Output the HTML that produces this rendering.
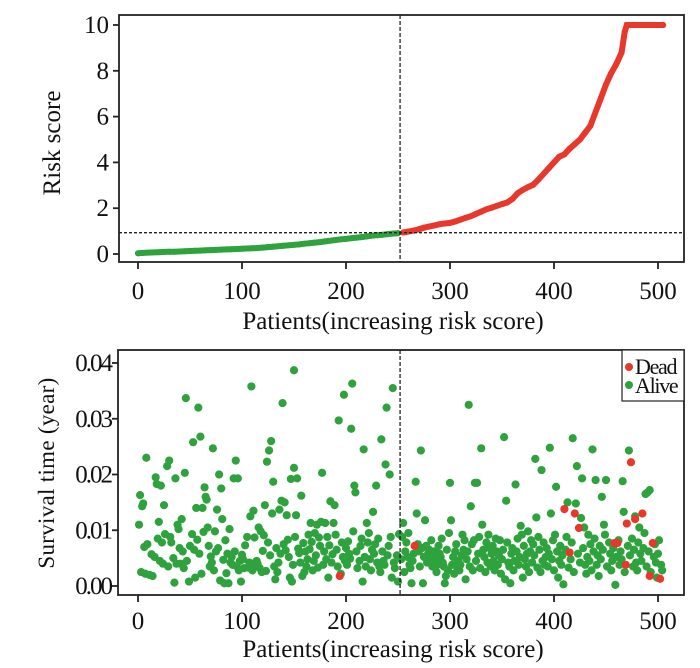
<!DOCTYPE html>
<html><head><meta charset="utf-8"><style>
html,body{margin:0;padding:0;background:#fff;}
svg{display:block;font-family:"Liberation Serif",serif;}
</style></head><body>
<svg id="chart" width="700" height="668" viewBox="0 0 700 668" xmlns="http://www.w3.org/2000/svg">
<g id="topPanel"></g>
<g id="botPanel"></g>
</svg>
<script>
// ---- top panel data ----
const riskPatients = [0,5,10,15,20,25,30,35,40,45,50,55,60,65,70,75,80,85,90,95,100,105,110,115,120,125,130,135,140,145,150,155,160,165,170,175,180,185,190,195,200,205,210,215,220,225,230,235,240,245,250,255,260,265,270,275,280,285,290,295,300,305,310,315,320,325,330,335,340,345,350,355,360,365,370,375,380,385,390,395,400,405,410,415,420,425,430,435,440,445,450,455,460,465,468,470,475,480,485,490,495,500,505];
const riskValues = [.03,.05,.06,.07,.08,.09,.10,.10,.11,.12,.13,.14,.15,.16,.17,.18,.19,.20,.21,.22,.23,.24,.25,.26,.28,.30,.32,.34,.36,.38,.40,.42,.45,.47,.50,.52,.55,.58,.61,.64,.66,.69,.71,.74,.77,.80,.82,.84,.87,.89,.91,.94,.98,1.02,1.08,1.15,1.2,1.25,1.3,1.33,1.36,1.42,1.5,1.58,1.65,1.75,1.85,1.95,2.02,2.1,2.18,2.25,2.4,2.65,2.8,2.92,3.02,3.25,3.5,3.75,4.0,4.25,4.35,4.6,4.8,5.0,5.3,5.6,6.2,6.8,7.4,7.9,8.3,8.8,9.7,10,10,10,10,10,10,10,10];
const riskCutoff = 0.93;
const cutoffPatient = 252;
const xTicks = [0,100,200,300,400,500];
const riskTicks = [0,2,4,6,8,10];
const survTicks = [0,0.01,0.02,0.03,0.04];
const survTickLabels = ["0.00","0.01","0.02","0.03","0.04"];
// ---- bottom panel data ----
const deadX = [194,266,410,415,420,424,458,461,470,474,478,485,492,495,502,469];
const deadY = [.0018,.0072,.0138,.006,.013,.0104,.0077,.0077,.0112,.0222,.012,.013,.0018,.0077,.0013,.0038];
const aliveHighX = [1,2,4,5,8,17,18,20,22,25,28,30,36,38,42,45,46,53,56,58,60,62,64,65,66,72,76,78,80,81,88,92,94,96,108,109,111,116,122,124,126,128,130,129,136,138,139,141,143,147,150,150,152,153,157,166,172,176,177,180,185,188,189,193,198,205,206,208,209,217,220,226,229,234,238,239,242,245,255,267,268,272,276,300,301,318,320,324,326,330,331,352,354,363,368,382,388,383,396,397,402,413,418,421,422,426,427,437,440,446,448,450,466,467,472,478,482,488,490,492];
const aliveHighY = [.011,.0163,.0143,.0148,.023,.0195,.0183,.0115,.018,.0145,.0215,.0225,.0193,.011,.012,.0203,.0337,.0258,.014,.032,.0268,.014,.0177,.016,.0155,.0247,.0137,.02,.0175,.012,.0102,.0193,.0225,.0193,.0125,.0358,.0135,.0105,.0145,.0223,.0243,.026,.0187,.013,.0137,.0153,.0328,.015,.0127,.0192,.0212,.0387,.0127,.0193,.0162,.0113,.011,.0115,.0203,.0113,.0152,.0113,.0145,.0297,.0343,.0282,.0363,.018,.0168,.0245,.0113,.0133,.018,.0263,.0218,.032,.02,.0355,.0113,.0187,.013,.0243,.0118,.0185,.0118,.0325,.0143,.0185,.0185,.0247,.011,.0267,.0153,.0182,.0108,.0228,.0208,.0123,.0248,.013,.0178,.015,.0265,.0148,.0215,.0122,.0193,.0245,.019,.016,.011,.019,.0188,.0133,.0243,.0125,.0105,.0165,.0168,.0172];
const aliveLowX = [3,6,7,9,11,13,14,16,19,21,23,24,26,29,31,32,34,35,37,39,40,41,43,44,47,49,50,52,54,55,57,59,61,63,67,68,69,70,71,73,74,75,77,79,82,83,84,85,86,87,89,90,91,93,95,97,98,99,100,101,102,103,105,106,107,110,112,113,114,115,117,118,119,120,121,123,125,127,131,132,133,134,135,137,140,142,144,145,146,148,149,151,154,155,156,158,159,160,161,162,163,164,165,167,168,169,170,171,173,174,175,178,179,181,182,183,184,186,187,190,191,192,195,196,197,199,200,201,202,203,204,207,210,211,213,214,215,216,218,219,221,222,223,224,225,227,228,230,231,232,233,235,236,237,240,241,243,244,246,247,249,250,251,253,254,256,257,258,259,260,261,262,263,264,265,269,270,271,273,274,275,277,278,279,280,281,282,283,284,285,286,287,288,289,290,291,292,293,294,295,296,297,298,299,302,303,304,305,306,307,308,309,310,311,312,313,314,315,316,317,319,321,322,323,325,327,328,329,332,333,334,335,336,337,338,339,340,341,342,343,344,345,346,347,348,349,350,351,353,355,356,357,358,359,360,361,362,364,365,366,367,369,370,371,372,373,374,375,376,377,378,379,380,381,384,385,386,387,389,390,391,392,393,394,395,398,399,400,401,403,404,405,406,407,408,409,411,412,414,416,417,419,423,425,428,429,430,431,432,433,434,435,436,438,439,441,442,443,444,445,447,449,451,453,454,455,456,457,459,460,462,463,464,465,468,471,473,475,476,477,479,480,481,483,484,486,487,489,491,493,496,497,498,499,500,501,503,504];
const aliveLowY = [.0025,.007,.0022,.0075,.002,.0057,.0018,.0052,.0085,.0045,.0078,.004,.0093,.0035,.0088,.0078,.005,.0006,.004,.0102,.0068,.004,.0062,.0032,.0045,.0008,.0072,.0093,.0065,.0015,.0083,.0058,.0022,.0097,.0105,.0072,.0035,.0053,.0042,.0028,.0098,.0062,.0068,.001,.0047,.0005,.0082,.0023,.0058,.0005,.0042,.0052,.0038,.0062,.0035,.0028,.0045,.0008,.0056,.0048,.0032,.0073,.0088,.0033,.0042,.0028,.0087,.0035,.0045,.004,.0032,.0098,.0025,.0063,.0091,.0027,.0078,.0055,.0035,.0012,.0068,.0025,.0042,.0058,.0075,.0064,.0083,.0052,.0015,.0008,.0038,.0088,.0067,.0059,.0042,.0018,.0077,.0025,.0062,.0035,.0048,.0092,.0066,.0079,.0028,.0045,.0095,.0055,.0033,.0087,.0072,.0038,.0062,.0048,.0088,.0015,.0073,.0042,.0057,.0092,.0065,.0035,.0022,.0078,.0052,.0045,.0068,.0038,.008,.0058,.0049,.0098,.0062,.0032,.0045,.0072,.0085,.0008,.0052,.0035,.0078,.0095,.0048,.0028,.0065,.0058,.0075,.0042,.0085,.0035,.0025,.0062,.0045,.0038,.0055,.0072,.0088,.0015,.0042,.0032,.0055,.0008,.0093,.0048,.0088,.0025,.0062,.0078,.0052,.0095,.0038,.0032,.0005,.0045,.0058,.0075,.0062,.0035,.0068,.0005,.0052,.0072,.0042,.0058,.0065,.0048,.0082,.0035,.0055,.0062,.0045,.0025,.0038,.0072,.0058,.0052,.0085,.0042,.0035,.0005,.0018,.0065,.0028,.0095,.0038,.0052,.0022,.0062,.0075,.0032,.0045,.0028,.0038,.0055,.0092,.0065,.0082,.0012,.0048,.0062,.0035,.0075,.0028,.0082,.0045,.0058,.0088,.0032,.0065,.0052,.0025,.0078,.0042,.0092,.0068,.0035,.0058,.0072,.0045,.0028,.0085,.0062,.0038,.0055,.0082,.0022,.0048,.0065,.0012,.0078,.0042,.0035,.0005,.0058,.0068,.0028,.0045,.0062,.0085,.0038,.0052,.0092,.0015,.0072,.0048,.0035,.0058,.0098,.0025,.0062,.0082,.0042,.0075,.0055,.0033,.0088,.0065,.0025,.0045,.0078,.0038,.0052,.0068,.0035,.0058,.0048,.0082,.0028,.0092,.0062,.0015,.0045,.0072,.0038,.0055,.0003,.0065,.0088,.0033,.0048,.0078,.0025,.0058,.0042,.0068,.0105,.0038,.0022,.0052,.0092,.0045,.0075,.0028,.0062,.0085,.0038,.0055,.0018,.0072,.0048,.0065,.0092,.0035,.0078,.0058,.0028,.0045,.0068,.0002,.0052,.0082,.0038,.0062,.0048,.0025,.0072,.0055,.0085,.0035,.0065,.0042,.0028,.0078,.0058,.0045,.0068,.0095,.0035,.0062,.0025,.0052,.0075,.0042,.0015,.0058,.0082,.0038,.0028,.0065,.0048,.0072,.0035,.0018,.0025,.0055,.0005,.0045,.0092,.0038,.0062,.0015,.0028,.0048,.0008,.0068,.0042,.0025,.0035,.0052,.0012,.0045,.0028];

const NS = "http://www.w3.org/2000/svg";
const GREEN = "#2ea23c", RED = "#e8382b";
const FS = 25;
function mk(tag, attrs, parent) {
  const e = document.createElementNS(NS, tag);
  for (const k in attrs) e.setAttribute(k, attrs[k]);
  parent.appendChild(e);
  return e;
}
const X0 = 138, XPER = 1.04;
function xs(p) { return X0 + p * XPER; }

// ===== TOP PANEL =====
const topG = document.getElementById('topPanel');
const T = {l:119, r:684, t:15, b:262};
function ysTop(v) { return 254 - v * 22.9; }
const greenPts = [], redPts = [];
for (let i = 0; i < riskPatients.length; i++) {
  const pt = xs(riskPatients[i]).toFixed(1) + "," + ysTop(riskValues[i]).toFixed(1);
  if (riskPatients[i] <= cutoffPatient) greenPts.push(pt);
  else redPts.push(pt);
}
const gl = mk('polyline', {points: greenPts.join(' '), fill:'none', stroke:GREEN, 'stroke-width':6, 'stroke-linecap':'round'}, topG);


const rl = mk('polyline', {points: redPts.join(' '), fill:'none', stroke:RED, 'stroke-width':6, 'stroke-linecap':'round'}, topG);


for (let i = 0; i < riskPatients.length; i++) {
  const c = mk('circle', {cx: xs(riskPatients[i]), cy: ysTop(riskValues[i]), r: 3, fill: riskPatients[i] <= cutoffPatient ? GREEN : RED}, topG);
  
  
}
const hl = mk('line', {x1:T.l, x2:T.r, y1:ysTop(riskCutoff), y2:ysTop(riskCutoff), stroke:'#222', 'stroke-width':1.4, 'stroke-dasharray':'3,2'}, topG);


const vl = mk('line', {x1:xs(cutoffPatient), x2:xs(cutoffPatient), y1:T.t, y2:T.b, stroke:'#222', 'stroke-width':1.3, 'stroke-dasharray':'4,2'}, topG);


const tf = mk('rect', {x:T.l, y:T.t, width:T.r-T.l, height:T.b-T.t, fill:'none', stroke:'#222', 'stroke-width':1.8}, topG);


for (const v of riskTicks) {
  const y = ysTop(v);
  const tk = mk('line', {x1:T.l-6, x2:T.l, y1:y, y2:y, stroke:'#222', 'stroke-width':1.8}, topG);
  
  
  const tx = mk('text', {x:109, y:y+8, 'text-anchor':'end', 'font-size':FS, fill:'#111'}, topG);
  tx.textContent = v;
  
  
}
for (const v of xTicks) {
  const x = xs(v);
  const tk = mk('line', {x1:x, x2:x, y1:T.b, y2:T.b+7, stroke:'#222', 'stroke-width':1.8}, topG);
  
  
  const tx = mk('text', {x:x, y:299, 'text-anchor':'middle', 'font-size':FS, fill:'#111'}, topG);
  tx.textContent = v;
  
  
}
const tt = mk('text', {x:393, y:329, 'text-anchor':'middle', 'font-size':FS, fill:'#111'}, topG);
tt.textContent = 'Patients(increasing risk score)';


const ty = mk('text', {x:0, y:0, 'text-anchor':'middle', 'font-size':FS, fill:'#111', transform:'translate(60,143) rotate(-90)'}, topG);
ty.textContent = 'Risk score';



// ===== BOTTOM PANEL =====
const botG = document.getElementById('botPanel');
const B = {l:118, r:684, t:350, b:595};
function ysBot(v) { return 586 - v * 5575; }
function dot(x, y, color, name) {
  const c = mk('circle', {cx: xs(x), cy: ysBot(y), r: 4.1, fill: color}, botG);
  
  
}
for (let i = 0; i < aliveLowX.length; i++) dot(aliveLowX[i], aliveLowY[i], GREEN, 'alive-point');
for (let i = 0; i < aliveHighX.length; i++) dot(aliveHighX[i], aliveHighY[i], GREEN, 'alive-point');
for (let i = 0; i < deadX.length; i++) dot(deadX[i], deadY[i], RED, 'dead-point');
const bvl = mk('line', {x1:xs(cutoffPatient), x2:xs(cutoffPatient), y1:B.t, y2:B.b, stroke:'#222', 'stroke-width':1.3, 'stroke-dasharray':'4,2'}, botG);


const bf = mk('rect', {x:B.l, y:B.t, width:B.r-B.l, height:B.b-B.t, fill:'none', stroke:'#222', 'stroke-width':1.8}, botG);


for (let i = 0; i < survTicks.length; i++) {
  const y = ysBot(survTicks[i]);
  const tk = mk('line', {x1:B.l-6, x2:B.l, y1:y, y2:y, stroke:'#222', 'stroke-width':1.8}, botG);
  
  
  const tx = mk('text', {x:111, y:y+8, 'text-anchor':'end', 'font-size':FS, 'letter-spacing':'-2', fill:'#111'}, botG);
  tx.textContent = survTickLabels[i];
  
  
}
for (const v of xTicks) {
  const x = xs(v);
  const tk = mk('line', {x1:x, x2:x, y1:B.b, y2:B.b+7, stroke:'#222', 'stroke-width':1.8}, botG);
  
  
  const tx = mk('text', {x:x, y:629, 'text-anchor':'middle', 'font-size':FS, fill:'#111'}, botG);
  tx.textContent = v;
  
  
}
const bt = mk('text', {x:393, y:657, 'text-anchor':'middle', 'font-size':FS, fill:'#111'}, botG);
bt.textContent = 'Patients(increasing risk score)';


const by = mk('text', {x:0, y:0, 'text-anchor':'middle', 'font-size':23, 'letter-spacing':'0.3', fill:'#111', transform:'translate(54,473) rotate(-90)'}, botG);
by.textContent = 'Survival time (year)';


const lg = mk('g', {}, botG);


const lb = mk('rect', {x:622, y:350, width:62, height:51, fill:'#fff', stroke:'#222', 'stroke-width':1.2}, lg);


const ld = mk('circle', {cx:629, cy:367, r:4, fill:RED}, lg);


const ldt = mk('text', {x:635, y:374, 'font-size':22, 'letter-spacing':'-1.3', fill:'#111'}, lg);
ldt.textContent = 'Dead';


const la = mk('circle', {cx:629, cy:385, r:4, fill:GREEN}, lg);


const lat = mk('text', {x:635, y:393, 'font-size':22, 'letter-spacing':'-1.3', fill:'#111'}, lg);
lat.textContent = 'Alive';


</script>
</body></html>
